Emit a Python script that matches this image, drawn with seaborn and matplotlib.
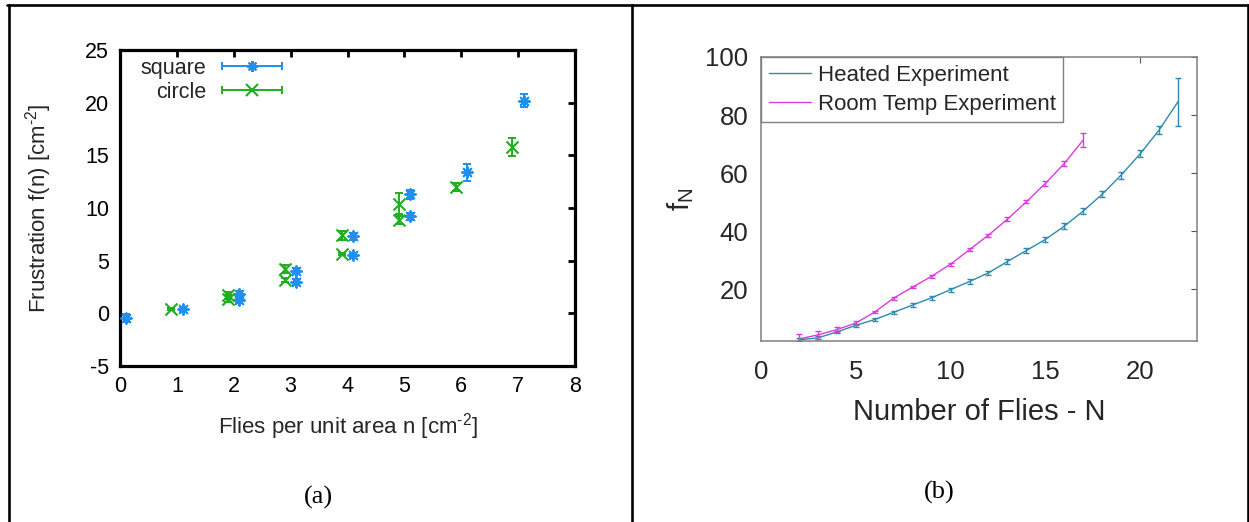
import numpy as np
import pandas as pd
import matplotlib
matplotlib.use("Agg")
import matplotlib.pyplot as plt
import seaborn as sns
from matplotlib.lines import Line2D
from matplotlib.collections import LineCollection
from matplotlib.container import ErrorbarContainer
from matplotlib.legend_handler import HandlerErrorbar

# ---------------- Panel (a) data ----------------
sq_n = [0.1, 1.1, 2.1, 2.1, 3.1, 3.1, 4.1, 4.1, 5.1, 5.1, 6.1, 7.1]
sq_f = [-0.45, 0.4, 1.3, 1.8, 4.0, 3.0, 7.3, 5.5, 11.3, 9.2, 13.4, 20.2]
sq_err = [0.4, 0.2, 0.3, 0.3, 0.3, 0.3, 0.3, 0.2, 0.4, 0.3, 0.8, 0.6]
ci_n = [0.9, 1.9, 1.9, 2.9, 2.9, 3.9, 3.9, 4.9, 4.9, 5.9, 6.9]
ci_f = [0.4, 1.4, 1.7, 4.2, 3.2, 7.4, 5.6, 10.4, 8.85, 12.0, 15.8]
ci_err = [0.1, 0.3, 0.3, 0.4, 0.2, 0.4, 0.1, 1.0, 0.4, 0.4, 0.85]
a_xticks = [0, 1, 2, 3, 4, 5, 6, 7, 8]
a_yticks = [-5, 0, 5, 10, 15, 20, 25]

# ---------------- Panel (b) data ----------------
heated_N = list(range(2, 23))
heated_f = [2.5, 3.2, 5.2, 7.5, 9.5, 12.0, 14.5, 17.0, 19.8, 22.6, 25.6,
            29.5, 33.3, 37.1, 41.7, 46.9, 52.7, 59.3, 66.6, 74.8, 84.6]
heated_err = [0.5, 0.5, 0.5, 0.5, 0.5, 0.5, 0.6, 0.6, 0.7, 0.8, 0.8,
              0.9, 0.9, 1.0, 1.0, 1.1, 1.1, 1.2, 1.2, 1.3, 8.3]
room_N = list(range(2, 18))
room_f = [2.8, 4.2, 6.0, 8.3, 12.1, 16.9, 20.7, 24.4, 28.6, 33.6, 38.6,
          44.1, 50.1, 56.4, 63.3, 71.4]
room_err = [1.8, 1.4, 0.9, 0.6, 0.5, 0.5, 0.5, 0.5, 0.5, 0.5, 0.5,
            0.6, 0.6, 0.7, 0.8, 2.3]
b_xticks = [0, 5, 10, 15, 20]
b_yticks = [20, 40, 60, 80, 100]

BLUE = "#1f8ff0"
GREEN = "#1fae1f"
TEAL = "#2e8aad"
MAGENTA = "#dc3cdc"

sns.set_theme(style="white")
plt.rcParams["font.family"] = ["Liberation Sans", "DejaVu Sans"]
plt.rcParams["mathtext.fontset"] = "custom"
plt.rcParams["mathtext.rm"] = "Liberation Sans"
plt.rcParams["mathtext.it"] = "Liberation Sans:italic"
plt.rcParams["axes.unicode_minus"] = False

W, H = 1249, 522
fig = plt.figure(figsize=(W / 100, H / 100), dpi=100)

def fx(px):
    return px / W

def fy(py):
    return 1 - py / H

# ---------------- Panel (a) ----------------
ax1 = fig.add_axes([fx(120), fy(366), fx(575) - fx(120), fy(50) - fy(366)])
ax1.errorbar(sq_n, sq_f, yerr=sq_err, fmt="none", ecolor=BLUE,
             elinewidth=1.4, capsize=3, capthick=1.4, zorder=2)
sns.scatterplot(x=sq_n, y=sq_f, marker=(8, 2, 0), s=60, color=BLUE,
                linewidth=1.4, ax=ax1, zorder=3)
ax1.errorbar(ci_n, ci_f, yerr=ci_err, fmt="none", ecolor=GREEN,
             elinewidth=1.4, capsize=3, capthick=1.4, zorder=4)
sns.scatterplot(x=ci_n, y=ci_f, marker="x", s=75, color=GREEN,
                linewidth=1.5, ax=ax1, zorder=5)
ax1.set_xlim(0, 8)
ax1.set_ylim(-5, 25)
ax1.set_xticks(a_xticks)
ax1.set_yticks(a_yticks)
for s in ax1.spines.values():
    s.set_linewidth(2.3)
    s.set_color("black")
ax1.tick_params(direction="in", length=5, width=2.0, colors="black",
                labelsize=15.5, top=True, right=True, pad=7)
ax1.tick_params(axis="y", pad=8)
ax1.set_xlabel(r"Flies per unit area n [cm$^{\text{-2}}$]", fontsize=16)
ax1.set_ylabel(r"Frustration f(n) [cm$^{\text{-2}}$]", fontsize=16)
ax1.xaxis.set_label_coords(0.5, -0.142)
ax1.yaxis.set_label_coords(-0.145, 0.5)


def proxy(color, marker, ms):
    pl = Line2D([], [], color=color, marker=marker, linestyle="none",
                markersize=ms, markeredgewidth=1.5)
    cap = Line2D([], [], color=color, marker="|", linestyle="none",
                 markersize=6, markeredgewidth=1.4)
    bar = LineCollection([], colors=[color], linewidths=1.4)
    return ErrorbarContainer((pl, (cap,), (bar,)), has_xerr=True,
                             has_yerr=False)

h_sq = proxy(BLUE, (8, 2, 0), 7.8)
h_ci = proxy(GREEN, "x", 8.5)
leg1 = ax1.legend([h_sq, h_ci], ["square", "circle"], loc="upper right",
                  bbox_to_anchor=(0.383, 1.01), frameon=False,
                  markerfirst=False, fontsize=15.5, borderpad=0,
                  handlelength=2.9, handletextpad=0.7, labelspacing=0.15,
                  handler_map={ErrorbarContainer: HandlerErrorbar(xerr_size=1.4)})

# ---------------- Panel (b) ----------------
ax2 = fig.add_axes([fx(761), fy(341), fx(1197) - fx(761), fy(57) - fy(341)])
df = pd.DataFrame({
    "N": heated_N + room_N,
    "f": heated_f + room_f,
    "series": ["Heated Experiment"] * len(heated_N) + ["Room Temp Experiment"] * len(room_N),
})
sns.lineplot(data=df, x="N", y="f", hue="series",
             hue_order=["Heated Experiment", "Room Temp Experiment"],
             palette=[TEAL, MAGENTA], linewidth=1.0, legend=False,
             errorbar=None, ax=ax2)
ax2.errorbar(heated_N, heated_f, yerr=heated_err, fmt="none", ecolor=TEAL,
             elinewidth=1.0, capsize=2.2, capthick=1.0)
ax2.errorbar(room_N, room_f, yerr=room_err, fmt="none", ecolor=MAGENTA,
             elinewidth=1.0, capsize=2.0, capthick=1.0)
ax2.set_xlim(0, 23)
ax2.set_ylim(2.1, 100)
ax2.set_xticks(b_xticks)
ax2.set_yticks(b_yticks)
for s in ax2.spines.values():
    s.set_linewidth(1.1)
    s.set_color("#808080")
ax2.tick_params(direction="in", length=4, width=0.8, color="#555555",
                labelcolor="#262626", labelsize=18.5, top=True, right=True)
ax2.tick_params(axis="x", pad=14)
ax2.tick_params(axis="y", pad=9)
ax2.set_xlabel("Number of Flies - N", fontsize=21, color="#262626")
ax2.set_ylabel(r"f$_{\mathrm{N}}$", fontsize=21, color="#262626")
ax2.xaxis.set_label_coords(0.5, -0.2)
ax2.yaxis.set_label_coords(-0.15, 0.5)
lines = ax2.get_lines()[:2]
leg2 = ax2.legend(lines, ["Heated Experiment", "Room Temp Experiment"],
                  loc="upper left", borderaxespad=0, frameon=True,
                  fancybox=False, edgecolor="#808080", framealpha=1,
                  fontsize=16, handlelength=1.9, handletextpad=0.3,
                  borderpad=0.35, labelspacing=0.35)
leg2.get_frame().set_linewidth(1.0)

# ---------------- table frame & captions ----------------
lw = 1.9
fig.add_artist(Line2D([fx(7), fx(1248)], [fy(5), fy(5)], transform=fig.transFigure, color="black", lw=lw))
fig.add_artist(Line2D([fx(8.5), fx(8.5)], [fy(5), fy(522)], transform=fig.transFigure, color="black", lw=lw))
fig.add_artist(Line2D([fx(632), fx(632)], [fy(5), fy(522)], transform=fig.transFigure, color="black", lw=lw))
fig.add_artist(Line2D([fx(1247.5), fx(1247.5)], [fy(5), fy(522)], transform=fig.transFigure, color="black", lw=lw))
fig.text(fx(318), fy(497), "(a)", ha="center", va="center", fontsize=19,
         family="Liberation Serif", color="black")
fig.text(fx(939), fy(492), "(b)", ha="center", va="center", fontsize=19,
         family="Liberation Serif", color="black")

fig.savefig("out.png", dpi=100)
